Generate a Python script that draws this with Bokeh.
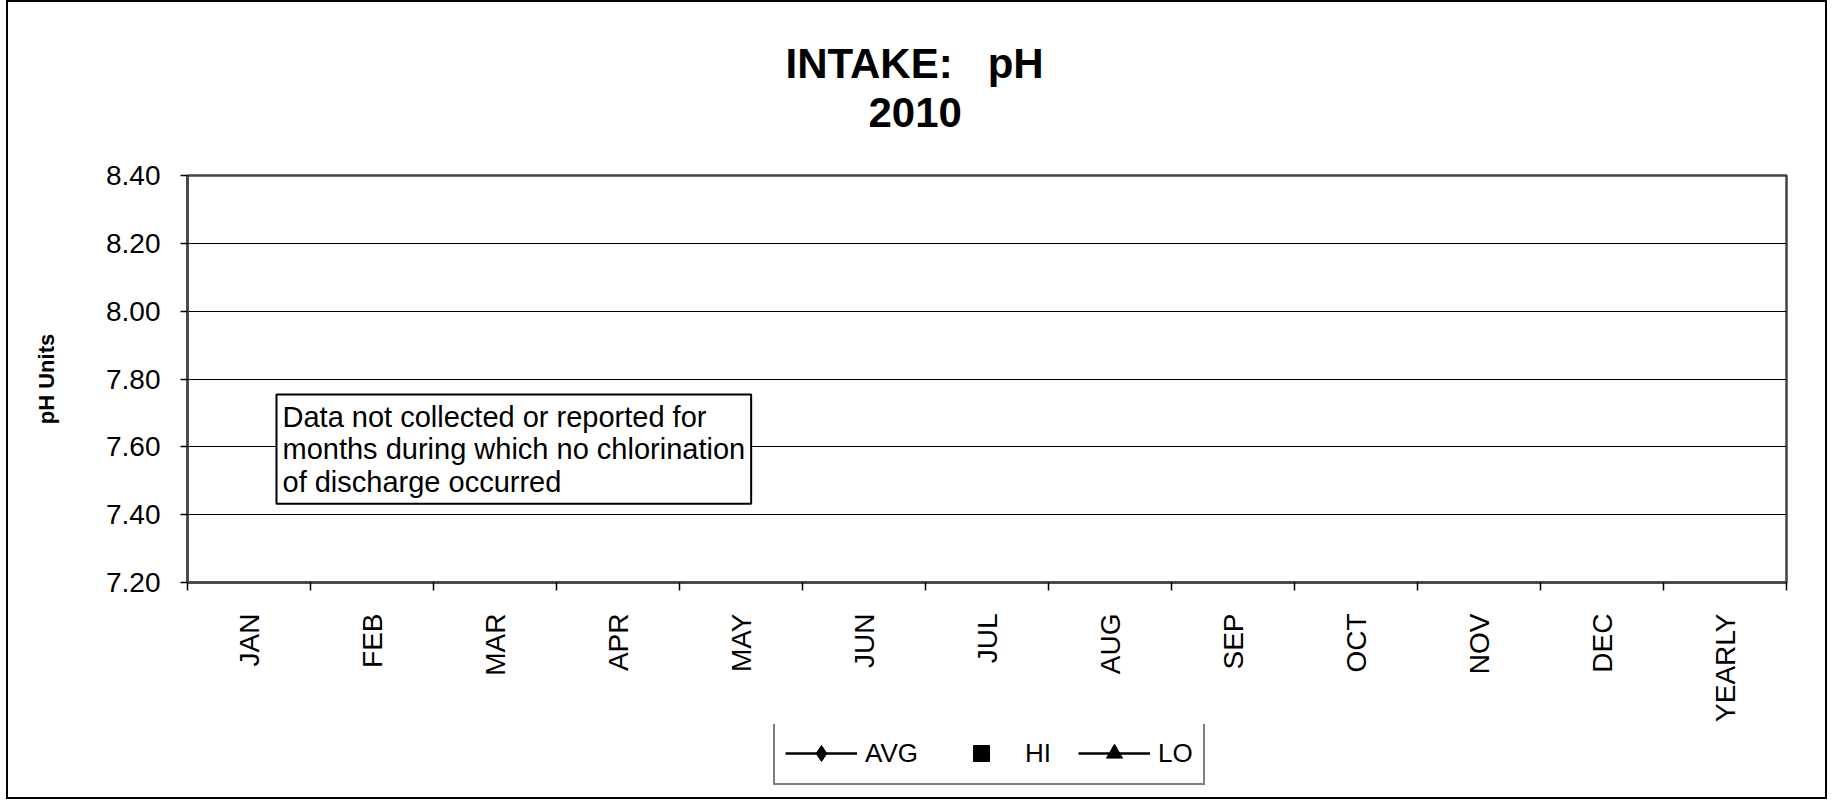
import math
from bokeh.plotting import figure
from bokeh.layouts import column
from bokeh.models import (Range1d, FixedTicker, NumeralTickFormatter, Label,
                          Legend, LegendItem, Title)
from bokeh.embed import file_html
from bokeh.resources import INLINE

# ---------------- data ----------------
MONTHS = ["JAN", "FEB", "MAR", "APR", "MAY", "JUN", "JUL",
          "AUG", "SEP", "OCT", "NOV", "DEC", "YEARLY"]
NA = float("nan")
# no data reported (no chlorination of discharge during 2010)
AVG_PH = [NA, NA, NA, NA, NA, NA, NA, NA, NA, NA, NA, NA, NA]
HI_PH = [NA, NA, NA, NA, NA, NA, NA, NA, NA, NA, NA, NA, NA]
LO_PH = [NA, NA, NA, NA, NA, NA, NA, NA, NA, NA, NA, NA, NA]
Y_TICKS = [7.20, 7.40, 7.60, 7.80, 8.00, 8.20, 8.40]
SERIES_NAMES = ["AVG", "HI", "LO"]

NBSP = "\u00a0"
TITLE_1 = "INTAKE:" + NBSP * 3 + "pH"
TITLE_2 = "2010"
Y_LABEL = "pH Units"
NOTE = ("Data not collected or reported for\n"
        "months during which no chlorination\n"
        "of discharge occurred")

FONT = "Liberation Sans"

xs = list(range(len(MONTHS)))

# ---------------- main chart ----------------
p = figure(width=1817, height=722, output_backend="svg", toolbar_location=None,
           x_range=Range1d(-0.5, len(MONTHS) - 0.5),
           y_range=Range1d(Y_TICKS[0], Y_TICKS[-1]),
           min_border_left=179, min_border_right=39,
           min_border_top=173, min_border_bottom=142)
p.background_fill_color = "white"
p.border_fill_color = "white"
p.outline_line_color = "#444444"
p.outline_line_width = 2.5

xa = p.xaxis[0]
xa.ticker = FixedTicker(ticks=xs, minor_ticks=[i - 0.5 for i in range(len(MONTHS) + 1)])
xa.major_label_overrides = {i: m for i, m in enumerate(MONTHS)}
xa.major_tick_line_color = None
xa.major_tick_out = 0
xa.major_tick_in = 0
xa.minor_tick_line_color = "black"
xa.minor_tick_line_width = 1.5
xa.minor_tick_out = 8
xa.minor_tick_in = 0
xa.major_label_orientation = math.pi / 2
xa.major_label_standoff = 23
xa.major_label_text_font = FONT
xa.major_label_text_font_size = "28px"
xa.major_label_text_color = "black"
xa.axis_line_color = "#444444"
xa.axis_line_width = 2.5

ya = p.yaxis[0]
ya.ticker = FixedTicker(ticks=Y_TICKS)
ya.formatter = NumeralTickFormatter(format="0.00")
ya.major_tick_out = 7
ya.major_tick_in = 0
ya.major_tick_line_color = "black"
ya.major_tick_line_width = 1.5
ya.minor_tick_line_color = None
ya.major_label_standoff = 20
ya.major_label_text_font = FONT
ya.major_label_text_font_size = "28px"
ya.major_label_text_color = "black"
ya.axis_line_color = "#444444"
ya.axis_line_width = 2.5
ya.axis_label = Y_LABEL
ya.axis_label_text_font = FONT
ya.axis_label_text_font_size = "22px"
ya.axis_label_text_font_style = "bold"
ya.axis_label_text_color = "black"
ya.axis_label_standoff = 44

p.xgrid.grid_line_color = None
p.ygrid.grid_line_color = "black"
p.ygrid.grid_line_width = 1

# series (no values reported)
p.line(xs, AVG_PH, line_color="black", line_width=2.5)
p.scatter(xs, AVG_PH, marker="diamond", size=18, color="black")
p.scatter(xs, HI_PH, marker="square", size=15, color="black")
p.line(xs, LO_PH, line_color="black", line_width=2.5)
p.scatter(xs, LO_PH, marker="triangle", size=16, color="black")

# titles, stacked from the frame outward
p.title.text = ""
spacer = Title(text=" ", text_font_size="10px", standoff=30)
t2 = Title(text=TITLE_2, align="left", offset=681, vertical_align="middle",
           text_font=FONT, text_font_size="42px", text_font_style="bold",
           text_color="black", standoff=9)
t1 = Title(text=TITLE_1, align="left", offset=598, vertical_align="middle",
           text_font=FONT, text_font_size="42px", text_font_style="bold",
           text_color="black", standoff=9)
p.add_layout(spacer, "above")
p.add_layout(t2, "above")
p.add_layout(t1, "above")

p.add_layout(Label(x=89, y=188, x_units="screen", y_units="screen", text=NOTE,
                   text_align="left", text_baseline="top",
                   text_font=FONT, text_font_size="29px", text_color="black",
                   text_line_height=1.02,
                   border_line_color="black", border_line_width=2,
                   background_fill_color="white", padding=6))

# ---------------- legend strip ----------------
q = figure(width=1817, height=73, output_backend="svg", toolbar_location=None,
           x_axis_location=None, y_axis_location=None, title_location=None,
           min_border=0)
q.outline_line_color = None
q.xgrid.grid_line_color = None
q.ygrid.grid_line_color = None
q.background_fill_color = "white"
q.border_fill_color = "white"

l_avg = q.line(xs, AVG_PH, line_color="black", line_width=2.5)
s_avg = q.scatter(xs, AVG_PH, marker="diamond", color="black")
s_hi = q.scatter(xs, HI_PH, marker="square", color="black")
l_lo = q.line(xs, LO_PH, line_color="black", line_width=2.5)
s_lo = q.scatter(xs, LO_PH, marker="triangle", color="black")

legend = Legend(items=[
    LegendItem(label=SERIES_NAMES[0], renderers=[l_avg, s_avg]),
    LegendItem(label=SERIES_NAMES[1], renderers=[s_hi]),
    LegendItem(label=SERIES_NAMES[2], renderers=[l_lo, s_lo]),
], orientation="horizontal", location=(586, 12))
legend.label_text_font = FONT
legend.label_text_font_size = "26px"
legend.label_text_color = "black"
legend.glyph_width = 72
legend.glyph_height = 40
legend.label_standoff = 8
legend.spacing = 27
legend.padding = 10
legend.margin = 0
legend.border_line_color = "black"
legend.border_line_width = 2
legend.background_fill_color = "white"
legend.background_fill_alpha = 1.0
q.add_layout(legend)

page = column(p, q, spacing=0,
              styles={"border": "2px solid black", "margin-left": "6px"})

open("out.html", "w").write(file_html(page, INLINE))
